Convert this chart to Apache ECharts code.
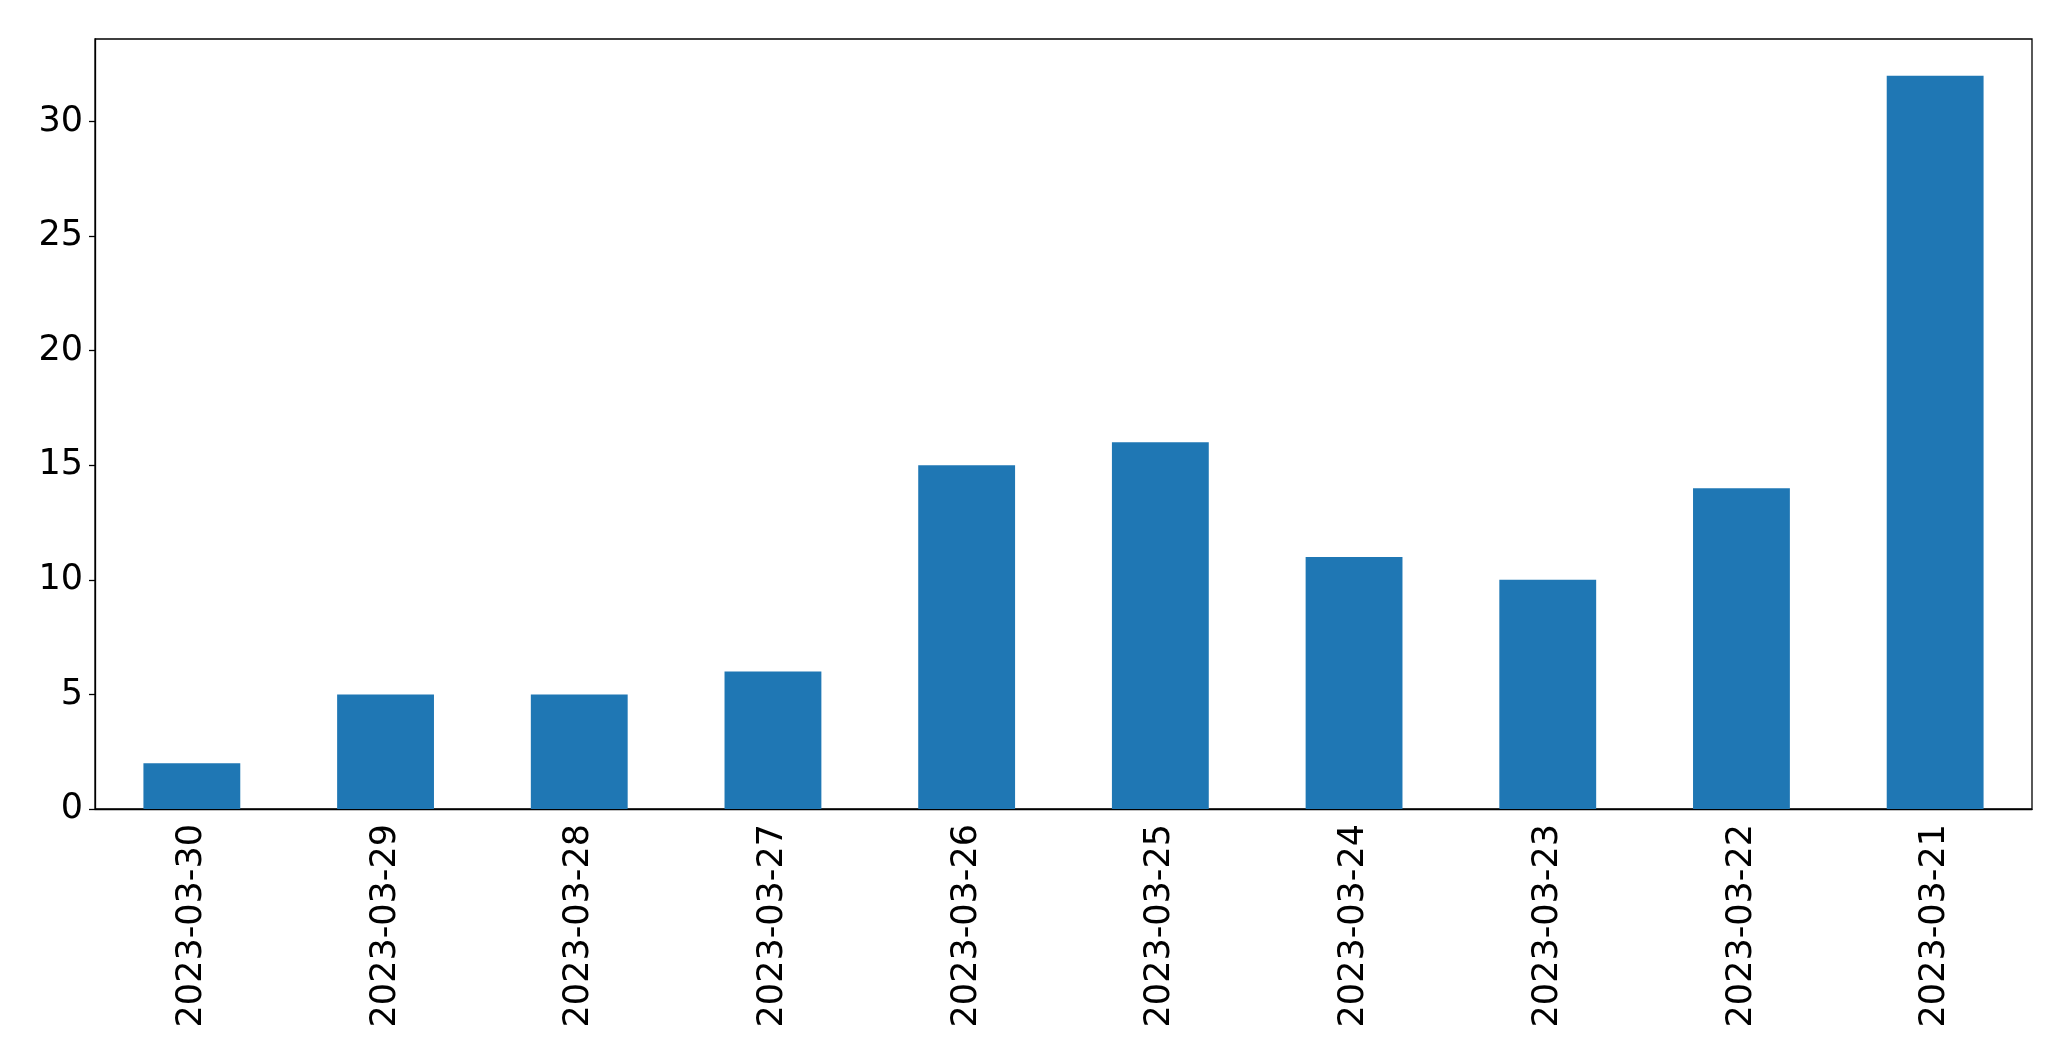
<!DOCTYPE html>
<html>
<head>
<meta charset="utf-8">
<script src="https://cdn.jsdelivr.net/npm/echarts@6/dist/echarts.min.js"></script>
<style>
  html, body { margin: 0; padding: 0; background: #fff; }
  #chart { width: 2071px; height: 1061px; }
</style>
</head>
<body>
<div id="chart"></div>
<script>
// 数据
const dates = ['2023-03-30', '2023-03-29', '2023-03-28', '2023-03-27', '2023-03-26',
               '2023-03-25', '2023-03-24', '2023-03-23', '2023-03-22', '2023-03-21'];
const counts = [2, 5, 5, 6, 15, 16, 11, 10, 14, 32];
const yTicks = [0, 5, 10, 15, 20, 25, 30];

const chart = echarts.init(document.getElementById('chart'));
const font = 'DejaVu Sans';

const option = {
  animation: false,
  backgroundColor: '#ffffff',
  grid: {
    left: 95,
    right: 39,
    top: 39,
    bottom: 252,
    show: true,
    borderColor: '#000000',
    borderWidth: 1.3,
    containLabel: false
  },
  xAxis: {
    type: 'category',
    data: dates,
    boundaryGap: true,
    axisLine: { lineStyle: { color: '#000000', width: 1.3 } },
    axisTick: { alignWithLabel: true, length: 6, lineStyle: { color: '#000000', width: 1.3 } },
    axisLabel: {
      rotate: 90,
      margin: 15,
      fontFamily: font,
      fontSize: 35,
      color: '#000000'
    },
    splitLine: { show: false }
  },
  yAxis: {
    type: 'value',
    min: 0,
    max: 33.6,
    interval: 5,
    axisLine: { show: true, lineStyle: { color: '#000000', width: 1.3 } },
    axisTick: { show: true, length: 6, lineStyle: { color: '#000000', width: 1.3 } },
    axisLabel: {
      margin: 12,
      fontFamily: font,
      fontSize: 35,
      color: '#000000',
      showMaxLabel: false,
      formatter: (v) => (yTicks.includes(v) ? String(v) : '')
    },
    splitLine: { show: false }
  },
  series: [
    {
      type: 'bar',
      data: counts,
      barWidth: '50%',
      itemStyle: { color: '#1f77b4' }
    }
  ]
};

chart.setOption(option);
</script>
</body>
</html>
